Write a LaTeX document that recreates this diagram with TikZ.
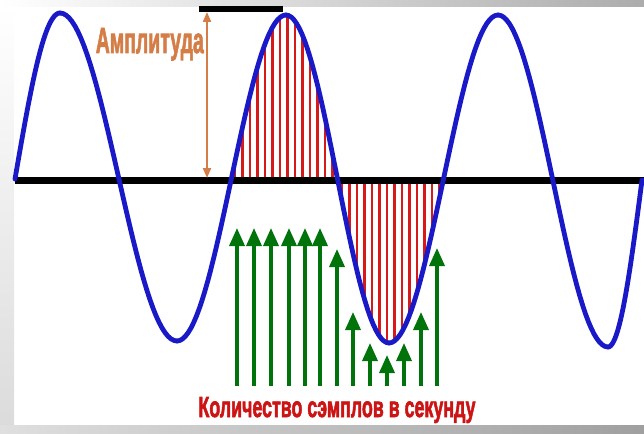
\documentclass[tikz,border=0pt]{standalone}
\usepackage{fontspec}
\setmainfont{Liberation Sans}
\newfontfamily\heavyfont{Liberation Sans}[BoldFont={Liberation Sans Bold}, BoldFeatures={FakeBold=2.5}]
\usepackage{graphicx}
\definecolor{waveblue}{RGB}{25,25,200}
\definecolor{hatchred}{RGB}{215,25,25}
\definecolor{samplegreen}{RGB}{0,115,10}
\definecolor{amporange}{RGB}{212,125,70}
\definecolor{labelred}{RGB}{205,20,20}
\usetikzlibrary{arrows.meta,positioning}

\begin{document}
\begin{tikzpicture}[x=1pt, y=-1pt,
    wave/.style={line width=4.8pt, waveblue, line cap=round, line join=round},
    hatch/.style={line width=2.8pt, hatchred},
    sample/.style={line width=3.4pt, samplegreen, -{Triangle[width=15pt,length=18pt]}},
    declare function={lobe(\t)=(\t<286) ? (178+163*cos((\t-177)/109*180)) :
      ((\t<389) ? (179-164*cos((\t-286)/103*180)) : (179+164*cos((\t-389)/109*180)));}]
    % Frame
    \useasboundingbox (0,0) rectangle (644,433);
    \shade[left color=white, right color=gray!65] (0,0) rectangle (644,7);
    \shade[top color=white, bottom color=gray!28] (0,7) rectangle (14,425);
    \shade[left color=gray!25, right color=gray!75] (0,425) rectangle (644,433);

    % Hatching
    \foreach \h in {235,242.5,...,333} \draw[hatch] (\h,182) -- (\h,{lobe(\h)});
    \foreach \h in {342,349.5,...,440} \draw[hatch] (\h,178) -- (\h,{lobe(\h)});

    % Axis
    \draw[line width=7pt] (15,180) -- (644,180);
    \draw[line width=6pt] (199,9) -- (283,9);

    % Wave
    \foreach \xa/\ya/\xb/\yb/\lo/\hi in {-30/345/60/13/15/60, 60/13/177/341/60/177,
        177/341/286/15/177/286, 286/15/389/343/286/389, 389/343/498/15/389/498,
        498/15/608/347/498/608, 608/347/676/13/608/642}
      \draw[wave, domain=\lo:\hi, samples=40]
        plot (\x, {(\ya+\yb)/2 + (\ya-\yb)/2*cos((\x-\xa)/(\xb-\xa)*180)});

    % Amplitude
    \draw[line width=2pt, amporange, {Triangle[width=8pt,length=10pt]}-{Triangle[width=8pt,length=10pt]}]
      (207,12) -- (207,178);
    \node[anchor=base east, inner sep=0pt, amporange] (amp) at (204,53)
      {\resizebox{108pt}{25pt}{\heavyfont\bfseries Амплитуда}};

    % Samples
    \foreach \gx/\gy in {237/228, 254/228, 271/228, 289/228, 305/228, 320/228, 337/249,
        353/312, 370/343, 387/355, 404/343, 421/312, 437/248}
      \draw[sample] (\gx,386) -- (\gx,\gy);
    \node[anchor=base, inner sep=0pt, labelred] (rate) at (337,417)
      {\resizebox{277pt}{20pt}{\heavyfont\bfseries Количество сэмплов в секунду}};
\end{tikzpicture}
\end{document}
